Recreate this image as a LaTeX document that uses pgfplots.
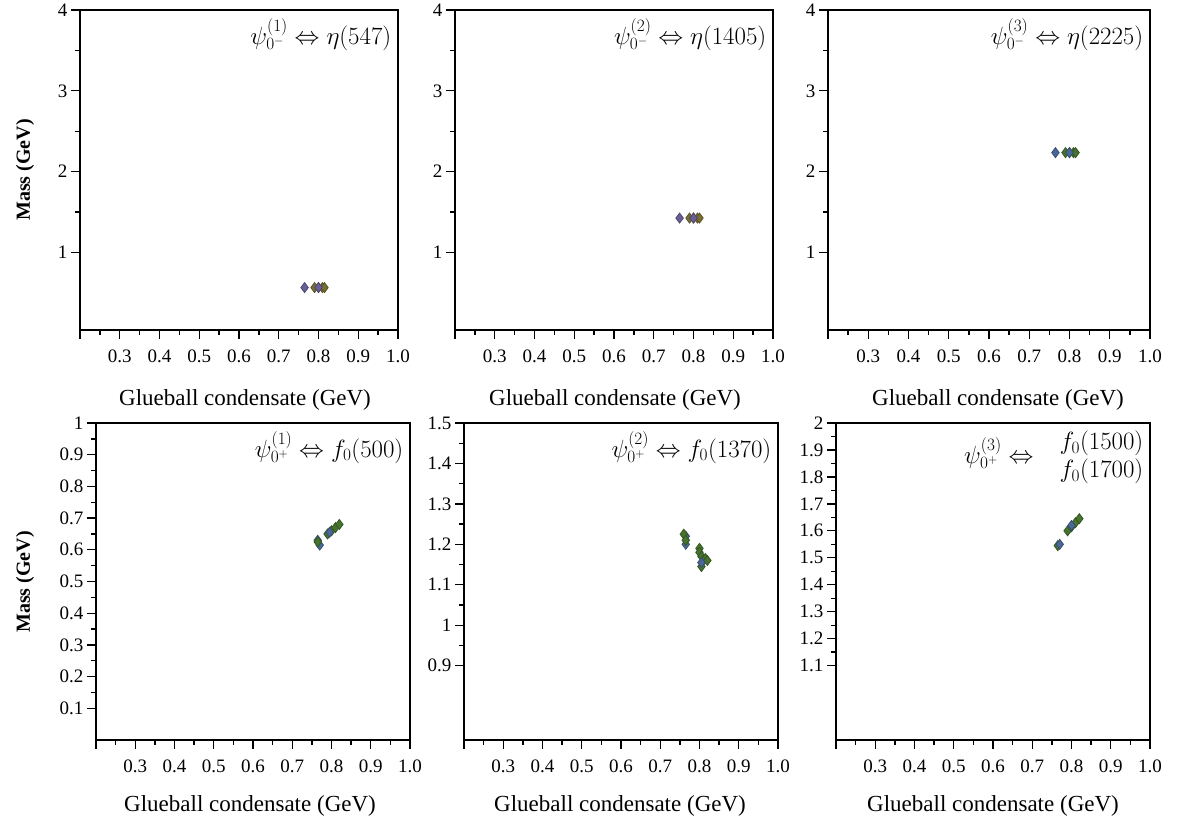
\documentclass[border=0pt]{standalone}
\usepackage{pgfplots}
\pgfplotsset{compat=1.18}
\usepackage{fontspec}
\setmainfont{Liberation Serif}
\definecolor{cblue}{RGB}{74,104,150}
\definecolor{cgreen}{RGB}{70,115,45}
\definecolor{cpurple}{RGB}{105,95,150}
\definecolor{colive}{RGB}{120,110,50}
\pgfplotsset{
  panel/.style={
    scale only axis, anchor=south west,
    xmin=0.2, xmax=1.0,
    xtick={0.2,0.3,...,1.0},
    xticklabels={,0.3,0.4,0.5,0.6,0.7,0.8,0.9,1.0},
    minor x tick num=1,
    xtick pos=bottom, ytick pos=left,
    tick align=outside,
    major tick length=9pt, minor tick length=5pt,
    axis line style={line width=1.8pt},
    every tick/.style={line width=1.3pt, black},
    tick label style={font=\fontsize{19}{19}\selectfont},
    /pgf/number format/assume math mode=true,
    xticklabel style={yshift=-7pt},
    clip=false,
  },
  pts/.style={only marks, mark=diamond*, mark size=5pt, draw=#1!75!black, fill=#1, line width=0.8pt},
}
\newcommand{\xlab}[1]{\node[font=\fontsize{23}{23}\selectfont] at #1 {Glueball condensate (GeV)};}
\begin{document}
\begin{tikzpicture}[x=1pt,y=1pt]
\useasboundingbox (0,0) rectangle (1179,-829);
% ---------- top row ----------
\begin{axis}[panel, at={(80pt,-330pt)}, width=318pt, height=320pt,
  ymin=0.04, ymax=4, ytick={1,2,3,4}, minor y tick num=1]
\addplot[pts=cpurple] coordinates {(0.765,0.565)};
\addplot[pts=colive] coordinates {(0.79,0.565)(0.80,0.565)(0.81,0.565)(0.815,0.565)};
\addplot[pts=cpurple] coordinates {(0.80,0.565)};
\node[anchor=north east, font=\fontsize{23}{23}\selectfont] at (rel axis cs:0.99,0.985) {$\psi_{0^-}^{(1)}\Leftrightarrow\eta(547)$};
\end{axis}
\begin{axis}[panel, at={(455pt,-330pt)}, width=318pt, height=320pt,
  ymin=0.04, ymax=4, ytick={1,2,3,4}, minor y tick num=1]
\addplot[pts=cpurple] coordinates {(0.765,1.425)};
\addplot[pts=colive] coordinates {(0.79,1.425)(0.80,1.425)(0.81,1.425)(0.815,1.425)};
\addplot[pts=cpurple] coordinates {(0.80,1.425)};
\node[anchor=north east, font=\fontsize{23}{23}\selectfont] at (rel axis cs:0.99,0.985) {$\psi_{0^-}^{(2)}\Leftrightarrow\eta(1405)$};
\end{axis}
\begin{axis}[panel, at={(828pt,-330pt)}, width=322pt, height=320pt,
  ymin=0.04, ymax=4, ytick={1,2,3,4}, minor y tick num=1]
\addplot[pts=cblue] coordinates {(0.765,2.235)};
\addplot[pts=cgreen] coordinates {(0.79,2.235)(0.80,2.235)(0.81,2.235)(0.815,2.235)};
\addplot[pts=cblue] coordinates {(0.80,2.235)};
\node[anchor=north east, font=\fontsize{23}{23}\selectfont] at (rel axis cs:0.99,0.985) {$\psi_{0^-}^{(3)}\Leftrightarrow\eta(2225)$};
\end{axis}
% ---------- bottom row ----------
\begin{axis}[panel, at={(96pt,-740pt)}, width=314pt, height=317pt,
  ymin=0, ymax=1, ytick={0.1,0.2,...,1.0},
  yticklabels={0.1,0.2,0.3,0.4,0.5,0.6,0.7,0.8,0.9,1}, minor y tick num=1]
\addplot[pts=cblue] coordinates {(0.765,0.63)(0.77,0.615)};
\addplot[pts=cgreen] coordinates {(0.765,0.625)(0.79,0.65)(0.80,0.66)(0.81,0.67)(0.82,0.68)};
\addplot[pts=cblue] coordinates {(0.795,0.655)};
\node[anchor=north east, font=\fontsize{23}{23}\selectfont] at (rel axis cs:0.99,0.985) {$\psi_{0^+}^{(1)}\Leftrightarrow f_0(500)$};
\end{axis}
\begin{axis}[panel, at={(464pt,-740pt)}, width=314pt, height=317pt,
  ymin=0.716, ymax=1.5, ytick={0.9,1.0,...,1.5},
  yticklabels={0.9,1,1.1,1.2,1.3,1.4,1.5}, minor y tick num=1]
\addplot[pts=cblue] coordinates {(0.765,1.22)(0.765,1.20)};
\addplot[pts=cgreen] coordinates {(0.76,1.225)(0.765,1.21)(0.80,1.19)(0.80,1.18)(0.805,1.17)(0.81,1.16)(0.805,1.145)(0.815,1.165)(0.82,1.16)};
\addplot[pts=cblue] coordinates {(0.805,1.155)};
\node[anchor=north east, font=\fontsize{23}{23}\selectfont] at (rel axis cs:0.99,0.985) {$\psi_{0^+}^{(2)}\Leftrightarrow f_0(1370)$};
\end{axis}
\begin{axis}[panel, at={(836pt,-740pt)}, width=314pt, height=317pt,
  ymin=0.824, ymax=2, ytick={1.1,1.2,...,2.0},
  yticklabels={1.1,1.2,1.3,1.4,1.5,1.6,1.7,1.8,1.9,2}, minor y tick num=1]
\addplot[pts=cgreen] coordinates {(0.765,1.545)(0.79,1.60)(0.80,1.615)(0.81,1.63)(0.82,1.645)};
\addplot[pts=cblue] coordinates {(0.77,1.55)(0.80,1.62)};
\node[anchor=north east, font=\fontsize{23}{23}\selectfont, align=left] at (rel axis cs:0.99,0.985) {$f_0(1500)$\\[2pt]$f_0(1700)$};
\node[anchor=east, font=\fontsize{23}{23}\selectfont] at (rel axis cs:0.64,0.905) {$\psi_{0^+}^{(3)}\Leftrightarrow$};
\end{axis}
% ---------- labels ----------
\xlab{(245,-400)}
\xlab{(615,-400)}
\xlab{(998,-400)}
\xlab{(250,-806)}
\xlab{(620,-806)}
\xlab{(993,-806)}
\node[rotate=90, font=\bfseries\fontsize{20}{20}\selectfont] at (25,-170) {Mass (GeV)};
\node[rotate=90, font=\bfseries\fontsize{20}{20}\selectfont] at (25,-582) {Mass (GeV)};
\end{tikzpicture}
\end{document}
